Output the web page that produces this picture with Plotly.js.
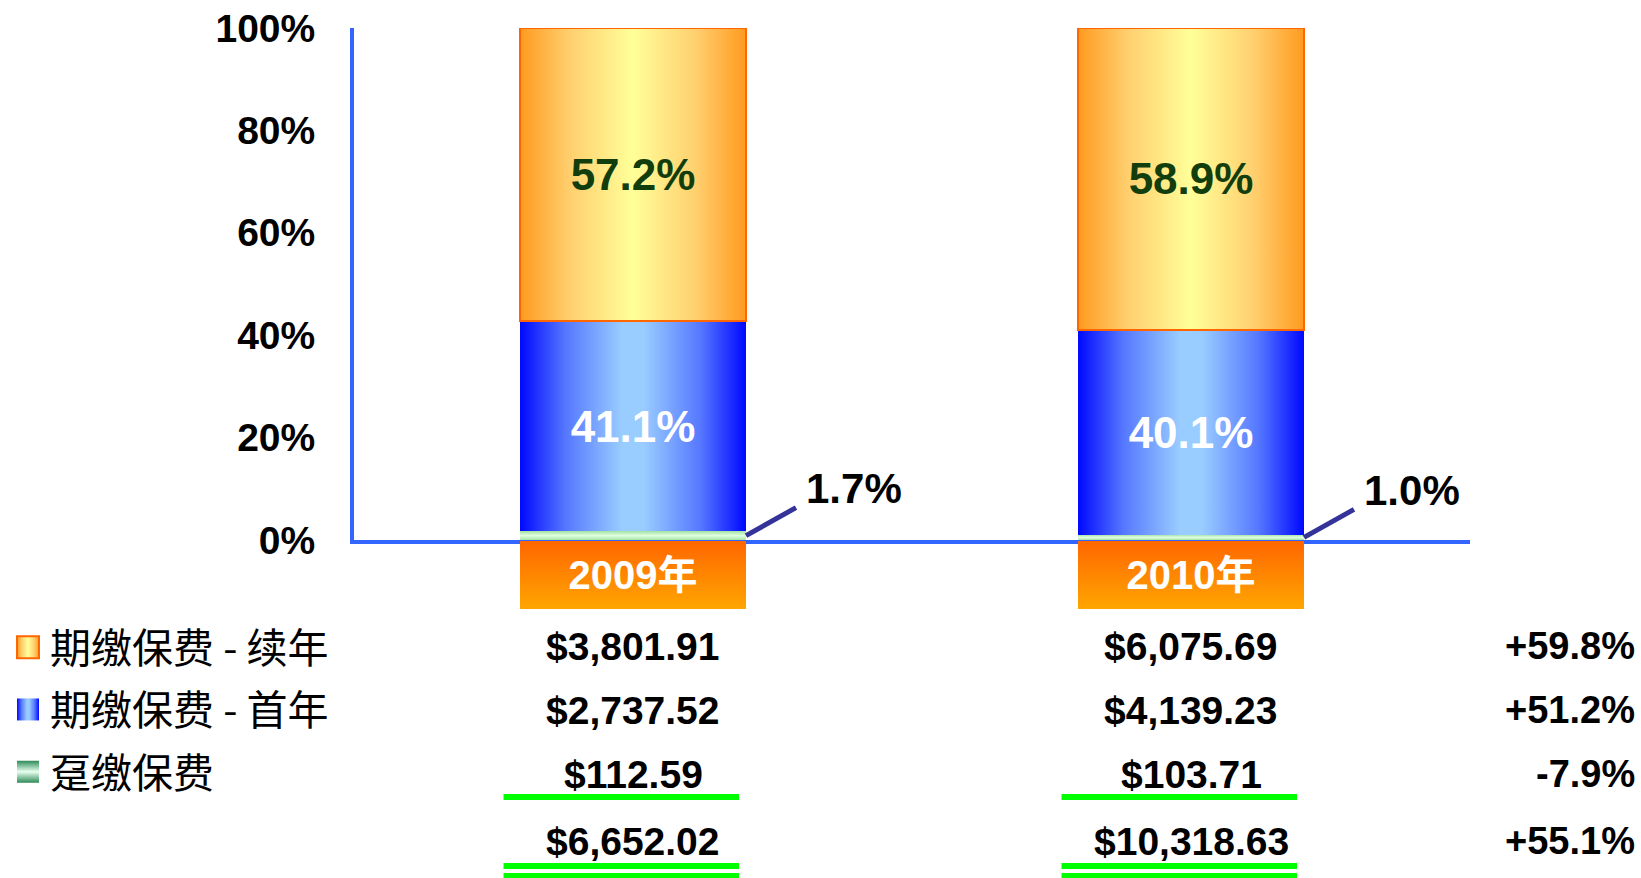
<!DOCTYPE html>
<html>
<head>
<meta charset="utf-8">
<script src="https://cdn.plot.ly/plotly-3.0.1.min.js"></script>
<style>
html,body{margin:0;padding:0;background:#fff;}
#chart{width:1641px;height:878px;}
</style>
</head>
<body>
<div id="chart"></div>
<script>
// ---------------- DATA ----------------
const categories = ['2009年', '2010年'];
const seriesNames = ['趸缴保费', '期缴保费 - 首年', '期缴保费 - 续年'];
const shareSingle = [1.7, 1.0];      // % of total, 趸缴保费
const shareFirst = [41.1, 40.1];     // % of total, 期缴保费 - 首年
const shareRenewal = [57.2, 58.9];   // % of total, 期缴保费 - 续年
const amtRenewal = [3801.91, 6075.69];
const amtFirst = [2737.52, 4139.23];
const amtSingle = [112.59, 103.71];
const amtTotal = [6652.02, 10318.63];
const growthRenewal = '+59.8%';
const growthFirst = '+51.2%';
const growthSingle = '-7.9%';
const growthTotal = '+55.1%';
const yTickVals = [0, 20, 40, 60, 80, 100];
const yTickText = ['0%', '20%', '40%', '60%', '80%', '100%'];

// ---------------- LAYOUT HELPERS ----------------
const W = 1641, H = 878;
const px = p => p / W;          // pixel -> paper x
const py = p => 1 - p / H;      // pixel -> paper y
const BARGAP = 0.595;
const halfBar = (1 - BARGAP) / 2;
const FONT = 'Liberation Sans, Arial, Noto Sans CJK SC, sans-serif';
const CJK = 'Noto Sans CJK SC, sans-serif';
const fmt = v => '$' + v.toLocaleString('en-US', {minimumFractionDigits: 2, maximumFractionDigits: 2});

const traces = [
  {
    type: 'bar', name: seriesNames[0], x: categories, y: shareSingle,
    xaxis: 'x', yaxis: 'y', legendgroup: 'g0', legendrank: 3,
    marker: {color: '#CCF5CC', line: {width: 0}},
    hoverinfo: 'skip'
  },
  {
    type: 'bar', name: seriesNames[1], x: categories, y: shareFirst,
    xaxis: 'x', yaxis: 'y', legendgroup: 'g1', legendrank: 2,
    marker: {color: '#6688FF', line: {width: 0}},
    text: shareFirst.map(v => v.toFixed(1) + '%'),
    textposition: 'inside', insidetextanchor: 'middle', constraintext: 'none',
    textfont: {family: FONT, size: 44, color: '#FFFFFF', weight: 'bold'},
    hoverinfo: 'skip'
  },
  {
    type: 'bar', name: seriesNames[2], x: categories, y: shareRenewal,
    xaxis: 'x', yaxis: 'y', legendgroup: 'g2', legendrank: 1,
    marker: {color: '#FFCC66', line: {width: 2, color: '#FF6600'}},
    text: shareRenewal.map(v => v.toFixed(1) + '%'),
    textposition: 'inside', insidetextanchor: 'middle', constraintext: 'none',
    textfont: {family: FONT, size: 44, color: '#123D0C', weight: 'bold'},
    hoverinfo: 'skip'
  },
  {
    type: 'bar', name: 'year', x: categories, y: categories.map(() => 1),
    xaxis: 'x', yaxis: 'y2', showlegend: false,
    marker: {color: '#FF8800', line: {width: 0}},
    text: categories,
    textposition: 'inside', insidetextanchor: 'middle', constraintext: 'none',
    textfont: {family: FONT, size: 40, color: '#FFFFFF', weight: 'bold'},
    hoverinfo: 'skip'
  }
];

const annotations = [];
const shapes = [];
// leader labels for the thin 趸缴 segment
categories.forEach((c, i) => {
  shapes.push({
    type: 'line', xref: 'x', yref: 'y',
    xsizemode: 'pixel', xanchor: i + halfBar, x0: 0, x1: 50,
    ysizemode: 'pixel', yanchor: shareSingle[i] / 2, y0: 0, y1: 28,
    line: {color: '#333399', width: 5}
  });
  annotations.push({
    xref: 'x', yref: 'y', x: i + halfBar, y: shareSingle[i] / 2,
    xanchor: 'left', yanchor: 'middle', xshift: 58, yshift: 47,
    text: shareSingle[i].toFixed(1) + '%', showarrow: false,
    font: {family: FONT, size: 42, color: '#000000', weight: 'bold'}
  });
});
// table rows
const rows = [
  {vals: amtRenewal, g: growthRenewal, y: 646},
  {vals: amtFirst, g: growthFirst, y: 710},
  {vals: amtSingle, g: growthSingle, y: 774},
  {vals: amtTotal, g: growthTotal, y: 841}
];
rows.forEach(r => {
  categories.forEach((c, i) => {
    annotations.push({
      xref: 'x', yref: 'paper', x: i, y: py(r.y), yanchor: 'middle', xanchor: 'center',
      text: fmt(r.vals[i]), showarrow: false,
      font: {family: FONT, size: 39, color: '#000000', weight: 'bold'}
    });
  });
  annotations.push({
    xref: 'paper', yref: 'paper', x: px(1637), y: py(r.y), xanchor: 'right', yanchor: 'middle',
    text: r.g, showarrow: false,
    font: {family: FONT, size: 38, color: '#000000', weight: 'bold'}
  });
});

categories.forEach((c, i) => {
  [797, 866, 876].forEach(yy => {
    shapes.push({
      type: 'line', xref: 'x', yref: 'paper',
      x0: i - 0.232, x1: i + 0.19, y0: py(yy), y1: py(yy),
      line: {color: '#00FF00', width: 6}
    });
  });
});

const layout = {
  width: W, height: H,
  margin: {l: 0, r: 0, t: 0, b: 0, pad: 0},
  paper_bgcolor: '#FFFFFF', plot_bgcolor: 'rgba(0,0,0,0)',
  barmode: 'stack', bargap: BARGAP,
  showlegend: true,
  hovermode: false,
  legend: {
    x: px(6), xanchor: 'left', y: py(614), yanchor: 'top',
    traceorder: 'grouped', tracegroupgap: 6,
    font: {family: CJK, size: 41, color: '#000000'},
    bgcolor: 'rgba(0,0,0,0)', borderwidth: 0, itemwidth: 34
  },
  xaxis: {
    domain: [px(354), px(1470)], range: [-0.5, 1.5], anchor: 'y',
    showline: true, linecolor: '#3366FF', linewidth: 4,
    showticklabels: false, ticks: '', showgrid: false, zeroline: false, fixedrange: true
  },
  yaxis: {
    domain: [py(540), py(28)], range: [0, 100], anchor: 'x',
    showline: true, linecolor: '#3366FF', linewidth: 4,
    tickvals: yTickVals, ticktext: yTickText, ticks: '', ticklabelstandoff: 27,
    tickfont: {family: FONT, size: 39, color: '#000000', weight: 'bold'},
    showgrid: false, zeroline: false, fixedrange: true
  },
  yaxis2: {
    domain: [py(609), py(541)], range: [0, 1], anchor: 'x', visible: false, fixedrange: true
  },
  annotations: annotations,
  shapes: shapes
};

// ---------------- GRADIENT STYLING ----------------
const SVGNS = 'http://www.w3.org/2000/svg';
function makeGrad(defs, id, vertical, stops) {
  const g = document.createElementNS(SVGNS, 'linearGradient');
  g.setAttribute('id', id);
  g.setAttribute('x1', '0'); g.setAttribute('y1', '0');
  g.setAttribute('x2', vertical ? '0' : '1'); g.setAttribute('y2', vertical ? '1' : '0');
  stops.forEach(s => {
    const st = document.createElementNS(SVGNS, 'stop');
    st.setAttribute('offset', s[0]);
    st.setAttribute('stop-color', s[1]);
    g.appendChild(st);
  });
  defs.appendChild(g);
}
function applyGradients(gd) {
  const svg = gd.querySelector('svg.main-svg');
  if (!svg) return;
  if (!document.getElementById('gOrange')) {
    const defs = document.createElementNS(SVGNS, 'defs');
    svg.insertBefore(defs, svg.firstChild);
    makeGrad(defs, 'gOrange', false, [[0, '#FF9A1F'], [0.22, '#FFCF6E'], [0.5, '#FFFF99'], [0.78, '#FFCF6E'], [1, '#FF9A1F']]);
    makeGrad(defs, 'gBlue', false, [[0, '#0008FF'], [0.2, '#5577FF'], [0.45, '#99CCFF'], [0.55, '#99CCFF'], [0.8, '#5577FF'], [1, '#0008FF']]);
    makeGrad(defs, 'gGreen', true, [[0, '#A6E3A6'], [0.5, '#E0FFE0'], [1, '#A6E3A6']]);
    makeGrad(defs, 'gGreenLeg', true, [[0, '#2E8B57'], [0.5, '#E8FFF0'], [1, '#2E8B57']]);
    makeGrad(defs, 'gYear', true, [[0, '#FF6600'], [1, '#FFA600']]);
  }
  const barFill = ['url(#gGreen)', 'url(#gBlue)', 'url(#gOrange)', 'url(#gYear)'];
  const legFill = ['url(#gGreenLeg)', 'url(#gBlue)', 'url(#gOrange)'];
  gd.querySelectorAll('.barlayer .trace').forEach(tg => {
    const cd = tg.__data__;
    if (!cd || !cd[0] || !cd[0].trace) return;
    const idx = cd[0].trace.index;
    tg.querySelectorAll('.point path').forEach(p => { p.style.fill = barFill[idx]; });
  });
  gd.querySelectorAll('.legend .traces').forEach(tg => {
    const d = tg.__data__;
    if (!d || !d[0] || !d[0].trace) return;
    const idx = d[0].trace.index;
    tg.querySelectorAll('.legendpoints path').forEach(p => {
      p.setAttribute('d', 'M11,11H-11V-11H11Z');
      p.style.fill = legFill[idx];
      if (idx === 2) { p.style.stroke = '#FF6600'; p.style.strokeWidth = '2px'; }
      else { p.style.strokeWidth = '0px'; }
    });
  });
}

const gd = document.getElementById('chart');
Plotly.newPlot(gd, traces, layout, {displayModeBar: false, staticPlot: true}).then(() => {
  applyGradients(gd);
  gd.on && gd.on('plotly_afterplot', () => applyGradients(gd));
});
</script>
</body>
</html>
